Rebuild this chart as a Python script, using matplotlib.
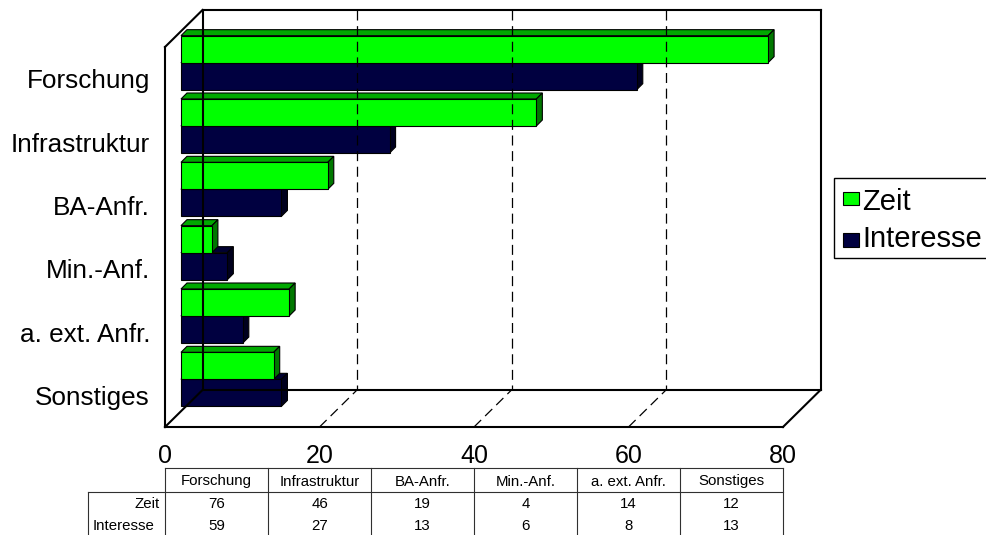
import matplotlib
matplotlib.use('Agg')
import matplotlib.pyplot as plt
from matplotlib.patches import Polygon, Rectangle
from matplotlib.lines import Line2D
import matplotlib.transforms as mtrans

# ---------------- data ----------------
categories = ['Forschung', 'Infrastruktur', 'BA-Anfr.', 'Min.-Anf.', 'a. ext. Anfr.', 'Sonstiges']
zeit = [76, 46, 19, 4, 14, 12]
interesse = [59, 27, 13, 6, 8, 13]
series_names = ['Zeit', 'Interesse']
xticks = [0, 20, 40, 60, 80]
xmax = 80

plt.rcParams['font.family'] = ['Liberation Sans', 'DejaVu Sans']

W, H = 986, 535
fig = plt.figure(figsize=(W / 100, H / 100), dpi=100)

# front plane of the 3-D box (pixels)
FL, FR, FT, FB = 165, 783, 47, 427
ax = fig.add_axes([FL / W, 1 - FB / H, (FR - FL) / W, (FB - FT) / H])
n = len(categories)
ax.set_xlim(0, xmax)
ax.set_ylim(n - 0.5, -0.5)
ax.patch.set_visible(False)

sx = (FR - FL) / xmax
sy = (FB - FT) / n


def off(px, py):
    """pixel offset (right, up) -> data offset"""
    return px / sx, -py / sy


BX, BY = off(37.5, 37)   # back wall depth
PX, PY = off(16, 16)     # plane of the bars
DX, DY = off(6, 6)       # depth of each bar
bh = 27 / sy             # height of one bar

lw_frame = 1.5
ykw = dict(color='black', lw=lw_frame, clip_on=False, solid_capstyle='projecting')

# back wall
y0, y1 = -0.5, n - 0.5
ax.plot([BX, BX], [y0 + BY, y1 + BY], **ykw)
ax.plot([BX, xmax + BX], [y0 + BY, y0 + BY], **ykw)
ax.plot([xmax + BX, xmax + BX], [y0 + BY, y1 + BY], **ykw)
ax.plot([BX, xmax + BX], [y1 + BY, y1 + BY], **ykw)
# left wall diagonals
ax.plot([0, BX], [y0, y0 + BY], **ykw)
ax.plot([0, BX], [y1, y1 + BY], **ykw)
# floor right diagonal
ax.plot([xmax, xmax + BX], [y1, y1 + BY], **ykw)

# gridlines on back wall and floor
dash = (0, (8, 4.5))
for t in xticks[1:-1]:
    ax.plot([t + BX, t + BX], [y0 + BY, y1 + BY], color='black', lw=0.9,
            ls=dash, clip_on=False)
    ax.plot([t, t + BX], [y1, y1 + BY], color='black', lw=0.9,
            ls=dash, clip_on=False)


def box3d(x_end, ytop, ybot, front, top, side):
    xa = PX
    xb = PX + x_end
    kw = dict(edgecolor='black', lw=0.8, clip_on=False, joinstyle='miter')
    ax.add_patch(Polygon([(xa, ytop), (xb, ytop), (xb + DX, ytop + DY), (xa + DX, ytop + DY)],
                         closed=True, facecolor=top, **kw))
    ax.add_patch(Polygon([(xb, ytop), (xb, ybot), (xb + DX, ybot + DY), (xb + DX, ytop + DY)],
                         closed=True, facecolor=side, **kw))
    ax.add_patch(Polygon([(xa, ytop), (xb, ytop), (xb, ybot), (xa, ybot)],
                         closed=True, facecolor=front, **kw))


green = ('#00FF00', '#00A800', '#007800')
navy = ('#000040', '#000030', '#00001E')

for i in range(n):
    c = i + PY
    box3d(interesse[i], c, c + bh, *navy)
    box3d(zeit[i], c - bh, c, *green)

# axes frame (front plane)
for s in ['top', 'right']:
    ax.spines[s].set_visible(False)
for s in ['left', 'bottom']:
    ax.spines[s].set_linewidth(lw_frame)
    ax.spines[s].set_capstyle('projecting')

ax.set_xticks(xticks)
ax.set_xticklabels([str(t) for t in xticks], fontsize=18)
ax.set_yticks(range(n))
ax.set_yticklabels(categories, fontsize=18.8)
ax.tick_params(axis='x', length=0, pad=12)
ax.tick_params(axis='y', length=0, pad=10.8)

# ---------------- data table ----------------
def fy(py):
    return 1 - py / H


bt = mtrans.blended_transform_factory(ax.transData, fig.transFigure)
tcol = '#303030'
tlw = 0.8
T_TOP, T_HDR, T_BOT = 468, 492, 540
ROW_Y = [503, 525]
LBL_L = 88
colw = xmax / n
fig.add_artist(Line2D([0, xmax], [fy(T_TOP), fy(T_TOP)], transform=bt, color=tcol, lw=tlw))
fig.add_artist(Line2D([LBL_L / W, FR / W], [fy(T_HDR), fy(T_HDR)], transform=fig.transFigure,
                      color=tcol, lw=tlw))
fig.add_artist(Line2D([LBL_L / W, LBL_L / W], [fy(T_HDR), fy(T_BOT)], transform=fig.transFigure,
                      color=tcol, lw=tlw))
for k in range(n + 1):
    fig.add_artist(Line2D([k * colw, k * colw], [fy(T_TOP), fy(T_BOT)], transform=bt,
                          color=tcol, lw=tlw))
tfs = 10.8
for k, cat in enumerate(categories):
    xc = (k + 0.5) * colw
    fig.text(xc, fy((T_TOP + T_HDR) / 2), cat, transform=bt, ha='center',
             va='center_baseline', fontsize=tfs)
    for r, vals in enumerate([zeit, interesse]):
        fig.text(xc, fy(ROW_Y[r]), str(vals[k]), transform=bt, ha='center',
                 va='center_baseline', fontsize=tfs)
fig.text(160 / W, fy(ROW_Y[0]), series_names[0], ha='right', va='center_baseline', fontsize=tfs)
fig.text(155 / W, fy(ROW_Y[1]), series_names[1], ha='right', va='center_baseline', fontsize=tfs)

# ---------------- legend ----------------
fig.add_artist(Rectangle((834 / W, fy(258)), (1000 - 834) / W, (258 - 178) / H,
                         transform=fig.transFigure, facecolor='white', edgecolor='black', lw=1))
leg_y = [(192, 205, 209.5), (233, 247, 247)]
for (t, b, base), name, col in zip(leg_y, series_names, [green[0], navy[0]]):
    fig.add_artist(Rectangle((843 / W, fy(b)), 16 / W, (b - t) / H, transform=fig.transFigure,
                             facecolor=col, edgecolor='black', lw=0.8))
    fig.text(862 / W, fy(base), name, ha='left', va='baseline', fontsize=21)

fig.savefig('out.png', dpi=100)
